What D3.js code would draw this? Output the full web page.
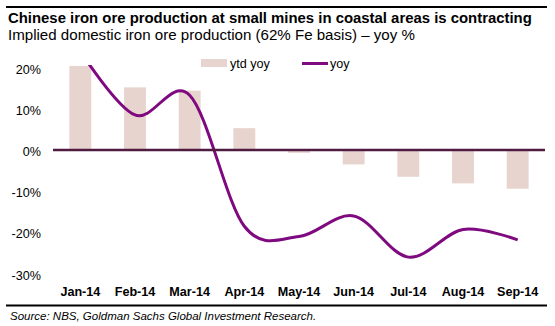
<html>
<head>
    <title>Iron ore production</title>
    <script src="https://d3js.org/d3.v7.min.js"></script>
    <style>
        body {
            margin: 0;
            background: white;
        }
        text {
            font-family: "Liberation Sans", Arial, sans-serif;
            fill: #000;
        }
        .title {
            font-size: 14.9px;
            font-weight: bold;
        }
        .subtitle {
            font-size: 15.1px;
        }
        .y-axis text {
            font-size: 12.6px;
        }
        .x-axis text {
            font-size: 12.6px;
            font-weight: bold;
        }
        .legend {
            font-size: 12.6px;
        }
        .source {
            font-size: 11.5px;
            font-style: italic;
        }
    </style>
</head>

<body>
    <div id="chart"></div>

    <script type="text/javascript">
        // Data ***********************
        var months = ["Jan-14", "Feb-14", "Mar-14", "Apr-14", "May-14", "Jun-14", "Jul-14", "Aug-14", "Sep-14"];
        var ytdYoy = [20.4, 15.2, 14.4, 5.3, -0.7, -3.5, -6.5, -8.1, -9.4];
        var yoy = [24, 8.5, 13.3, -18.5, -21, -16, -26, -19.3, -21.8];
        var yTicks = [20, 10, 0, -10, -20, -30];

        var width = 555;
        var height = 326;

        var barColor = "#e8d4ce";
        var lineColor = "#7f0a80";
        var zeroColor = "#4f1b40";

        var svg = d3.select("#chart").append("svg")
            .attr("width", width)
            .attr("height", height);

        // plot area
        var plot = {left: 53, right: 545, top: 65, bottom: 274};

        var x = d3.scaleBand()
            .domain(months)
            .range([plot.left, plot.right])
            .paddingInner(0.6)
            .paddingOuter(0.3);

        var y = d3.scaleLinear()
            .domain([-30, 20])
            .range([273.6, 67.6]);

        svg.append("clipPath")
            .attr("id", "plot-clip")
            .append("rect")
            .attr("x", plot.left)
            .attr("y", plot.top)
            .attr("width", plot.right - plot.left)
            .attr("height", plot.bottom - plot.top);

        // rules top and bottom
        svg.append("line")
            .attr("x1", 6).attr("x2", 547)
            .attr("y1", 7).attr("y2", 7)
            .attr("stroke", "#000")
            .attr("stroke-width", 2);
        svg.append("line")
            .attr("x1", 6).attr("x2", 547)
            .attr("y1", 305.5).attr("y2", 305.5)
            .attr("stroke", "#000")
            .attr("stroke-width", 2);

        // Titles
        svg.append("text")
            .attr("class", "title")
            .attr("x", 8)
            .attr("y", 23)
            .text("Chinese iron ore production at small mines in coastal areas is contracting");
        svg.append("text")
            .attr("class", "subtitle")
            .attr("x", 8)
            .attr("y", 39.5)
            .text("Implied domestic iron ore production (62% Fe basis) \u2013 yoy %");

        // Y axis labels only
        svg.append("g")
            .attr("class", "y-axis")
            .attr("transform", "translate(" + plot.left + ",1.5)")
            .call(d3.axisLeft(y)
                .tickValues(yTicks)
                .tickSize(0)
                .tickPadding(12)
                .tickFormat(function (d) { return d + "%"; }))
            .call(function (g) { g.select(".domain").remove(); })
            .selectAll("text")
            .attr("fill", "#000");

        // ytd yoy bars
        var g = svg.append("g").attr("clip-path", "url(#plot-clip)");
        g.selectAll("rect.bar")
            .data(ytdYoy)
            .enter().append("rect")
            .attr("class", "bar")
            .attr("x", function (d, i) { return x(months[i]); })
            .attr("width", x.bandwidth())
            .attr("y", function (d) { return y(Math.max(0, d)); })
            .attr("height", function (d) { return Math.abs(y(d) - y(0)); })
            .attr("fill", barColor);

        // zero line
        svg.append("line")
            .attr("x1", plot.left).attr("x2", plot.right)
            .attr("y1", y(0)).attr("y2", y(0))
            .attr("stroke", zeroColor)
            .attr("stroke-width", 2.5);

        // yoy smoothed line
        var line = d3.line()
            .x(function (d, i) { return x(months[i]) + x.bandwidth() / 2; })
            .y(function (d) { return y(d); })
            .curve(d3.curveCardinal.tension(0));

        g.append("path")
            .datum(yoy)
            .attr("fill", "none")
            .attr("stroke", lineColor)
            .attr("stroke-width", 3)
            .attr("stroke-linejoin", "round")
            .attr("d", line);

        // X axis labels
        svg.append("g")
            .attr("class", "x-axis")
            .attr("transform", "translate(0,284)")
            .call(d3.axisBottom(x).tickSize(0).tickPadding(3))
            .call(function (g) { g.select(".domain").remove(); })
            .selectAll("text")
            .attr("fill", "#000");

        // Legend
        var legend = svg.append("g").attr("class", "legend");
        legend.append("rect")
            .attr("x", 201).attr("y", 59)
            .attr("width", 26).attr("height", 8)
            .attr("fill", barColor);
        legend.append("text")
            .attr("x", 230).attr("y", 67.5)
            .text("ytd yoy");
        legend.append("line")
            .attr("x1", 302).attr("x2", 328)
            .attr("y1", 63.5).attr("y2", 63.5)
            .attr("stroke", lineColor)
            .attr("stroke-width", 3);
        legend.append("text")
            .attr("x", 330).attr("y", 67.5)
            .text("yoy");

        // Source
        svg.append("text")
            .attr("class", "source")
            .attr("x", 10)
            .attr("y", 319.5)
            .text("Source: NBS, Goldman Sachs Global Investment Research.");
    </script>
</body>
</html>
